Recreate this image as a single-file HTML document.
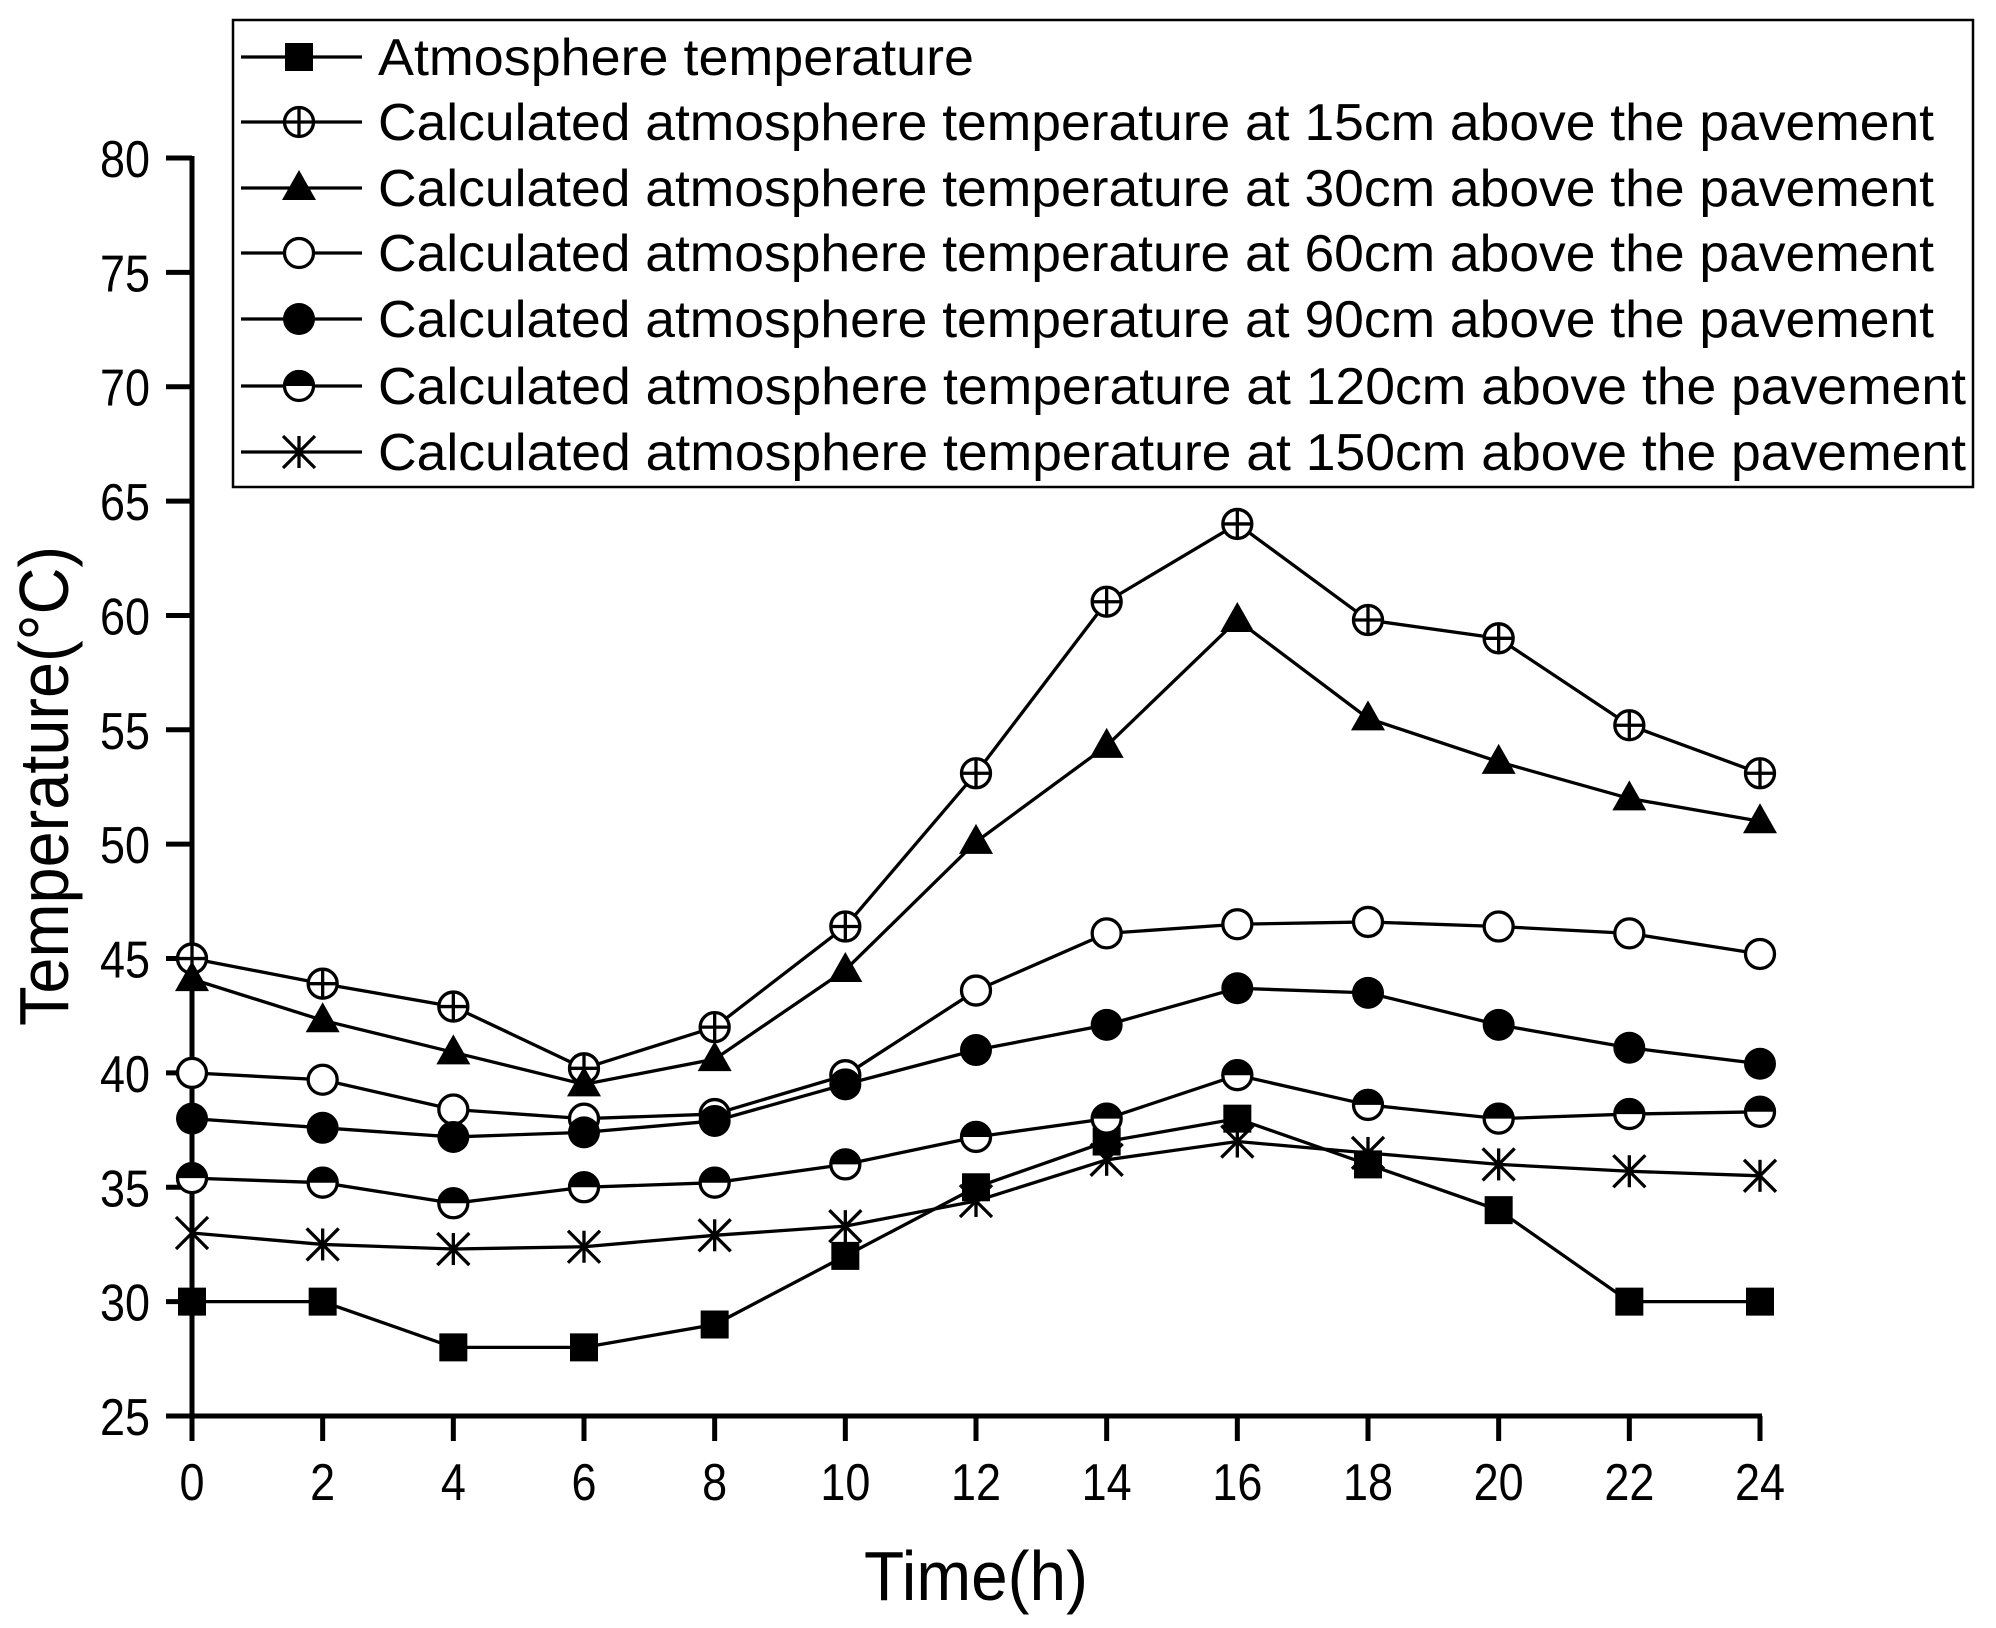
<!DOCTYPE html>
<html><head><meta charset="utf-8"><style>
html,body{margin:0;padding:0;background:#fff;}
svg{display:block;}
text{font-family:"Liberation Sans",Arial,sans-serif;fill:#000;}
</style></head><body>
<svg id="s" width="1996" height="1628" viewBox="0 0 1996 1628" xmlns="http://www.w3.org/2000/svg">
<rect width="1996" height="1628" fill="#fff"/>
<g id="axes" stroke="#000" stroke-width="5" fill="none">
<line x1="192" y1="156" x2="192" y2="1418"/>
<line x1="190" y1="1416" x2="1762" y2="1416"/>
</g>
<g id="ticks" stroke="#000" stroke-width="5"></g>
<g id="labels" font-size="52"></g>
<text x="976" y="1600" font-size="70" text-anchor="middle" textLength="224" lengthAdjust="spacingAndGlyphs">Time(h)</text>
<text transform="translate(68,786) rotate(-90)" font-size="70" text-anchor="middle" textLength="480" lengthAdjust="spacingAndGlyphs">Temperature(°C)</text>
<g id="series"></g>
<rect x="233" y="20" width="1740" height="467" fill="#fff" stroke="#000" stroke-width="2.5"/>
<g id="legend"></g>
</svg>
<script>
const NS="http://www.w3.org/2000/svg";
function el(t,a,p){const e=document.createElementNS(NS,t);for(const k in a)e.setAttribute(k,a[k]);p.appendChild(e);return e;}
const X=h=>192+h*65.333, Y=T=>1416-(T-25)*22.873;
const tk=document.getElementById('ticks'), lb=document.getElementById('labels');
for(let v=25;v<=80;v+=5){el('line',{x1:166,y1:Y(v),x2:192,y2:Y(v)},tk);
 const t=el('text',{x:150,y:Y(v)+19,'text-anchor':'end',textLength:50,lengthAdjust:'spacingAndGlyphs'},lb);t.textContent=v;}
for(let h=0;h<=24;h+=2){el('line',{x1:X(h),y1:1416,x2:X(h),y2:1441},tk);
 const w=h<10?25:50;const t=el('text',{x:X(h),y:1500,'text-anchor':'middle',textLength:w,lengthAdjust:'spacingAndGlyphs'},lb);t.textContent=h;}
const data=[
[30,30,28,28,29,32,35,37,38,36,34,30,30],
[45,43.9,42.9,40.2,42,46.4,53.1,60.6,64,59.8,59,55.2,53.1],
[44.1,42.3,40.9,39.5,40.6,44.5,50.1,54.3,59.8,55.5,53.6,52,51],
[40,39.7,38.4,38,38.2,39.9,43.6,46.1,46.5,46.6,46.4,46.1,45.2],
[38,37.6,37.2,37.4,37.9,39.5,41,42.1,43.7,43.5,42.1,41.1,40.4],
[35.4,35.2,34.3,35,35.2,36,37.2,38,39.9,38.6,38,38.2,38.3],
[33,32.5,32.3,32.4,32.9,33.3,34.4,36.2,37,36.5,36,35.7,35.5]];
const SW=3.3;
function marker(k,x,y,p){
 const st={stroke:'#000','stroke-width':SW};
 if(k==0) el('rect',{x:x-14,y:y-14,width:28,height:28,fill:'#000'},p);
 else if(k==1){el('circle',Object.assign({cx:x,cy:y,r:14.5,fill:'#fff'},st),p);
  el('line',Object.assign({x1:x-14,y1:y,x2:x+14,y2:y},st),p);el('line',Object.assign({x1:x,y1:y-14,x2:x,y2:y+14},st),p);}
 else if(k==2) el('polygon',{points:`${x},${y-18} ${x+17},${y+12} ${x-17},${y+12}`,fill:'#000'},p);
 else if(k==3) el('circle',Object.assign({cx:x,cy:y,r:14.5,fill:'#fff'},st),p);
 else if(k==4) el('circle',{cx:x,cy:y,r:16,fill:'#000'},p);
 else if(k==5){el('circle',Object.assign({cx:x,cy:y,r:14.5,fill:'#fff'},st),p);
  el('path',{d:`M${x-16},${y} A16,16 0 0 1 ${x+16},${y} Z`,fill:'#000'},p);}
 else if(k==6){const r=16;
  el('line',Object.assign({x1:x,y1:y-r,x2:x,y2:y+r},st),p);
  el('line',Object.assign({x1:x-r,y1:y-r,x2:x+r,y2:y+r},st),p);
  el('line',Object.assign({x1:x+r,y1:y-r,x2:x-r,y2:y+r},st),p);}
}
const sg=document.getElementById('series');
data.forEach((d,k)=>{
 el('polyline',{points:d.map((v,i)=>X(2*i)+','+Y(v)).join(' '),fill:'none',stroke:'#000','stroke-width':SW},sg);
 d.forEach((v,i)=>marker(k,X(2*i),Y(v),sg));
});
const names=["Atmosphere temperature"].concat([15,30,60,90,120,150].map(c=>`Calculated atmosphere temperature at ${c}cm above the pavement`));
const lens=[596,1556,1556,1556,1556,1588,1588];
const lg=document.getElementById('legend');
const rows=[57,122,188,253,319,386,452];
names.forEach((n,i)=>{const y=rows[i];
 el('line',{x1:241,y1:y,x2:362,y2:y,stroke:'#000','stroke-width':SW},lg);
 marker(i,299,y,lg);
 const t=el('text',{x:378,y:y+18,'font-size':52,textLength:lens[i],lengthAdjust:'spacingAndGlyphs'},lg);t.textContent=n;});
</script>
</body></html>
